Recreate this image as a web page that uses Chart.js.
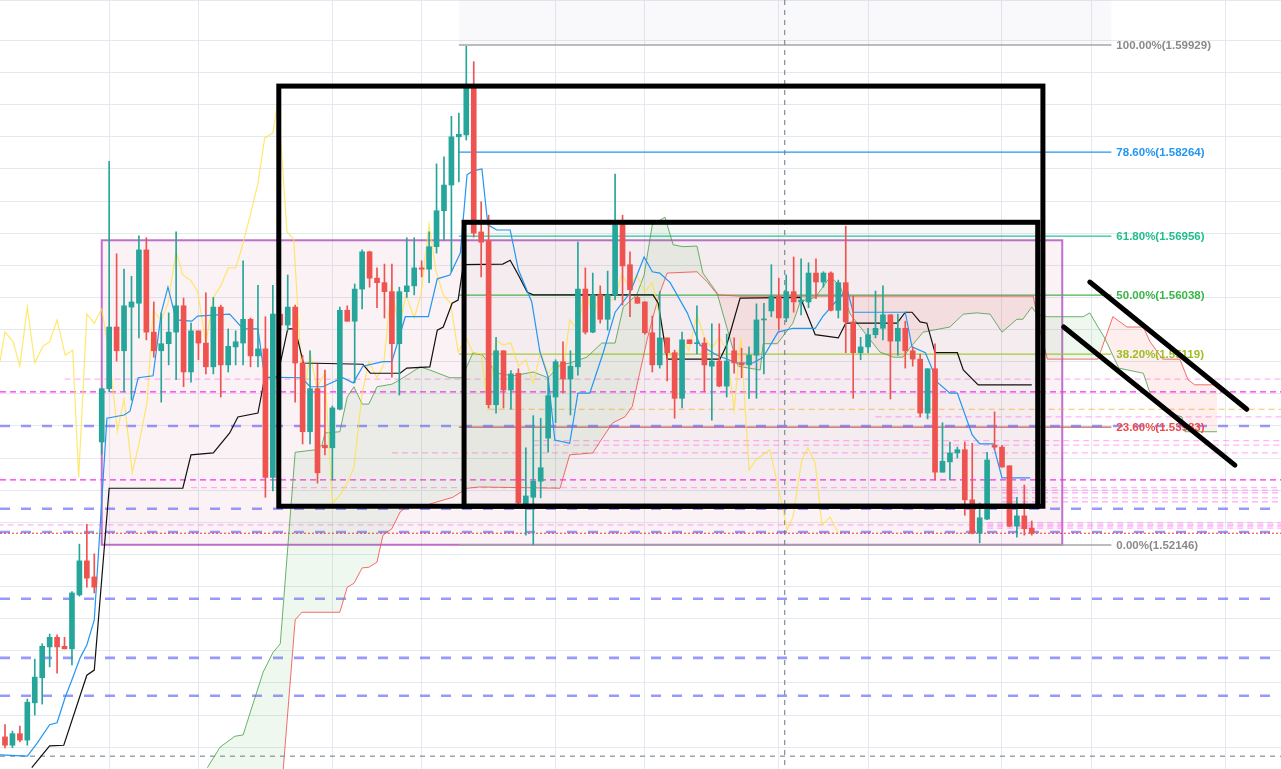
<!DOCTYPE html>
<html>
<head>
<meta charset="utf-8">
<script src="https://cdn.jsdelivr.net/npm/chart.js@4.4.0/dist/chart.umd.min.js"></script>
<style>
  html, body { margin: 0; padding: 0; background: #ffffff; }
  #wrap { width: 1281px; height: 769px; }
</style>
</head>
<body>
<div id="wrap"><canvas id="chart" width="1281" height="769"></canvas></div>
<script>
// candles, one per bar (bar index = position in the array)
var opens = [1.4916,1.4903,1.4921,1.4911,1.4969,1.5008,1.5056,1.5071,1.5057,1.5053,
  1.5137,1.5190,1.5165,1.5375,1.5458,1.5554,1.5517,1.5585,1.5591,1.5674,
  1.5546,1.5517,1.5528,1.5546,1.5587,1.5484,1.5548,1.5529,1.5492,1.5585,
  1.5495,1.5523,1.5529,1.5566,1.5509,1.5520,1.5320,1.5574,1.5557,1.5585,
  1.5498,1.5391,1.5458,1.5370,1.5366,1.5426,1.5580,1.5563,1.5613,1.5671,
  1.5630,1.5623,1.5609,1.5528,1.5609,1.5618,1.5646,1.5644,1.5679,1.5735,
  1.5775,1.5850,1.5853,1.5926,1.5702,1.5688,1.5433,1.5517,1.5456,1.5482,
  1.5275,1.5289,1.5314,1.5381,1.5445,1.5500,1.5473,1.5492,1.5613,1.5546,
  1.5604,1.5566,1.5604,1.5713,1.5651,1.5600,1.5593,1.5545,1.5495,1.5537,
  1.5514,1.5443,1.5534,1.5528,1.5529,1.5493,1.5501,1.5462,1.5517,1.5498,
  1.5495,1.5510,1.5565,1.5579,1.5602,1.5568,1.5609,1.5593,1.5593,1.5638,
  1.5624,1.5638,1.5580,1.5623,1.5562,1.5514,1.5523,1.5542,1.5552,1.5573,
  1.5532,1.5552,1.5517,1.5504,1.5420,1.5489,1.5328,1.5344,1.5358,1.5363,
  1.5285,1.5233,1.5255,1.5370,1.5367,1.5338,1.5244,1.5260,1.5241];
var highs = [1.4935,1.4925,1.4933,1.4975,1.5037,1.5061,1.5076,1.5075,1.5071,1.5142,
  1.5216,1.5247,1.5201,1.5459,1.5812,1.5668,1.5644,1.5633,1.5696,1.5693,
  1.5593,1.5576,1.5576,1.5702,1.5599,1.5560,1.5548,1.5607,1.5600,1.5588,
  1.5551,1.5548,1.5657,1.5568,1.5619,1.5570,1.5619,1.5587,1.5635,1.5588,
  1.5510,1.5517,1.5496,1.5487,1.5431,1.5585,1.5587,1.5621,1.5674,1.5672,
  1.5646,1.5652,1.5652,1.5616,1.5693,1.5693,1.5657,1.5702,1.5808,1.5819,
  1.5882,1.5887,1.5991,1.5967,1.5749,1.5728,1.5538,1.5517,1.5486,1.5489,
  1.5366,1.5416,1.5412,1.5475,1.5503,1.5531,1.5517,1.5686,1.5646,1.5638,
  1.5618,1.5641,1.5792,1.5728,1.5671,1.5602,1.5593,1.5571,1.5609,1.5537,
  1.5518,1.5546,1.5534,1.5587,1.5537,1.5559,1.5559,1.5543,1.5537,1.5521,
  1.5523,1.5590,1.5591,1.5651,1.5630,1.5635,1.5663,1.5660,1.5654,1.5660,
  1.5640,1.5640,1.5627,1.5711,1.5602,1.5538,1.5552,1.5610,1.5618,1.5573,
  1.5574,1.5563,1.5523,1.5512,1.5489,1.5528,1.5405,1.5375,1.5367,1.5375,
  1.5373,1.5280,1.5359,1.5422,1.5370,1.5338,1.5289,1.5308,1.5252];
var lows = [1.4899,1.4899,1.4908,1.4903,1.4950,1.4967,1.5025,1.5015,1.5053,1.5028,
  1.5135,1.5149,1.5140,1.5356,1.5453,1.5501,1.5453,1.5440,1.5537,1.5534,
  1.5507,1.5437,1.5495,1.5472,1.5461,1.5468,1.5503,1.5481,1.5481,1.5445,
  1.5484,1.5495,1.5495,1.5492,1.5492,1.5289,1.5299,1.5549,1.5549,1.5437,
  1.5372,1.5372,1.5311,1.5355,1.5316,1.5425,1.5563,1.5467,1.5582,1.5616,
  1.5584,1.5568,1.5476,1.5448,1.5600,1.5604,1.5632,1.5623,1.5669,1.5689,
  1.5640,1.5780,1.5845,1.5694,1.5632,1.5428,1.5420,1.5428,1.5426,1.5275,
  1.5230,1.5215,1.5288,1.5359,1.5405,1.5451,1.5417,1.5479,1.5543,1.5545,
  1.5560,1.5549,1.5596,1.5588,1.5570,1.5591,1.5543,1.5484,1.5490,1.5470,
  1.5412,1.5428,1.5528,1.5512,1.5453,1.5409,1.5461,1.5445,1.5482,1.5475,
  1.5443,1.5443,1.5481,1.5570,1.5549,1.5562,1.5577,1.5573,1.5584,1.5598,
  1.5616,1.5579,1.5568,1.5514,1.5443,1.5503,1.5514,1.5537,1.5534,1.5442,
  1.5510,1.5490,1.5493,1.5414,1.5411,1.5316,1.5328,1.5316,1.5350,1.5261,
  1.5232,1.5218,1.5254,1.5363,1.5336,1.5243,1.5227,1.5230,1.5230];
var closes = [1.4903,1.4921,1.4911,1.4970,1.5009,1.5057,1.5071,1.5056,1.5053,1.5140,
  1.5190,1.5163,1.5149,1.5458,1.5554,1.5517,1.5587,1.5593,1.5674,1.5546,
  1.5517,1.5528,1.5546,1.5587,1.5484,1.5548,1.5529,1.5492,1.5585,1.5495,
  1.5524,1.5531,1.5566,1.5509,1.5520,1.5320,1.5574,1.5557,1.5585,1.5498,
  1.5391,1.5458,1.5327,1.5366,1.5428,1.5580,1.5563,1.5613,1.5671,1.5630,
  1.5623,1.5609,1.5528,1.5609,1.5618,1.5646,1.5644,1.5679,1.5735,1.5775,
  1.5850,1.5854,1.5926,1.5700,1.5686,1.5433,1.5517,1.5456,1.5481,1.5280,
  1.5291,1.5314,1.5335,1.5447,1.5500,1.5473,1.5493,1.5613,1.5546,1.5604,
  1.5566,1.5604,1.5713,1.5649,1.5612,1.5591,1.5545,1.5495,1.5537,1.5514,
  1.5443,1.5534,1.5528,1.5529,1.5495,1.5501,1.5462,1.5501,1.5498,1.5495,
  1.5510,1.5565,1.5566,1.5602,1.5568,1.5609,1.5593,1.5596,1.5638,1.5624,
  1.5638,1.5580,1.5623,1.5562,1.5514,1.5523,1.5542,1.5552,1.5573,1.5532,
  1.5552,1.5517,1.5504,1.5420,1.5489,1.5328,1.5345,1.5358,1.5363,1.5285,
  1.5233,1.5257,1.5347,1.5367,1.5336,1.5244,1.5260,1.5240,1.5233];

// ichimoku lines (bar index, price)
var tenkanBars = [-0.7,3,4.3,6,7,8.1,9,10.1,11,12,13.7,16,16.8,17.9,19.9,21,21.9,23,25.1,25.9,
  30.2,32,34,34.9,39.9,41,42.7,45.4,46.8,48.1,50.8,52,53.8,56.9,58.1,59.8,61.2,62.1,62.9,64.1,
  64.9,66.1,67.9,69,70.8,71.9,73,73.9,75.9,77,78.6,80.4,82,84,85.9,87,88,89.4,91.7,93.4,
  95.7,98.4,100.5,101.9,103.9,105.9,108.9,109.9,112,113.2,114,121,121.9,123.7,125.4,127,128,130,131,132.8,
  134,137.8];
var tenkanPrices = [1.4888,1.4886,1.4906,1.4935,1.4938,1.4978,1.5005,1.5039,1.5059,1.5098,1.5412,1.5417,1.5423,1.5475,1.5478,1.5576,1.5616,1.5565,1.5563,1.5571,
  1.5574,1.5551,1.5551,1.5476,1.5475,1.5461,1.5461,1.5475,1.5467,1.5493,1.5500,1.5500,1.5570,1.5570,1.5629,1.5635,1.5669,1.5791,1.5797,1.5800,
  1.5713,1.5705,1.5705,1.5643,1.5593,1.5515,1.5476,1.5378,1.5373,1.5451,1.5451,1.5514,1.5577,1.5607,1.5663,1.5640,1.5638,1.5623,1.5576,1.5526,
  1.5510,1.5498,1.5498,1.5507,1.5546,1.5552,1.5552,1.5570,1.5598,1.5612,1.5577,1.5577,1.5523,1.5514,1.5467,1.5451,1.5451,1.5386,1.5372,1.5372,
  1.5319,1.5319];
var kijunBars = [3.6,6,7.9,11,12,14,23.9,25,28,30.2,31.3,34,34.9,36.6,38,39,40.1,48.1,49.1,53.1,
  54,57.1,58.1,58.9,60.1,60.9,61.6,66.9,67.9,69,70.2,71,87.1,87.8,89,96.1,97,98.8,106.9,108.9,
  112,113,119.9,121,121.9,123,123.9,125,128,128.8,130.8,138];
var kijunPrices = [1.4868,1.4902,1.4903,1.5012,1.5020,1.5303,1.5303,1.5355,1.5358,1.5389,1.5414,1.5420,1.5475,1.5476,1.5551,1.5551,1.5498,1.5496,1.5482,1.5482,
  1.5490,1.5492,1.5549,1.5554,1.5591,1.5596,1.5651,1.5652,1.5658,1.5635,1.5608,1.5604,1.5604,1.5591,1.5504,1.5504,1.5526,1.5599,1.5600,1.5542,
  1.5537,1.5560,1.5560,1.5577,1.5577,1.5562,1.5560,1.5514,1.5514,1.5487,1.5464,1.5464];
var spanABars = [27.2,28.9,30.9,32,34.7,36,37,39,41.8,42.6,43,45,46,46.9,48,48.9,50,52,53.1,55.8,
  57.1,59.8,61.4,62.9,64.2,66.1,68.3,71,73,74.6,75.9,78.2,80.2,82,83.1,84.9,85.9,87,88.7,89.8,
  91.1,93,93.8,95.7,98.5,101.5,101.9,103.8,105.9,106.9,108.9,110.9,112.2,113.6,116.3,117.6,119.4,120.7,121.6,123.4,
  124.7,127,128.8,130.6,132.4,134,136,136.8,138,138.7,140.1,144.9,145.8,146.9,147.8,149.7,153,153.9,155.5,156.6,
  158.2,158.6,162.9];
var spanAPrices = [1.4868,1.4900,1.4917,1.4919,1.5017,1.5047,1.5061,1.5359,1.5363,1.5370,1.5389,1.5391,1.5445,1.5461,1.5434,1.5434,1.5461,1.5465,1.5472,1.5492,
  1.5487,1.5475,1.5475,1.5514,1.5510,1.5482,1.5478,1.5484,1.5475,1.5495,1.5498,1.5507,1.5529,1.5529,1.5585,1.5604,1.5635,1.5713,1.5725,1.5682,
  1.5679,1.5680,1.5638,1.5607,1.5493,1.5487,1.5528,1.5528,1.5560,1.5594,1.5600,1.5632,1.5619,1.5574,1.5534,1.5515,1.5507,1.5507,1.5521,1.5546,
  1.5549,1.5554,1.5574,1.5576,1.5574,1.5546,1.5566,1.5566,1.5585,1.5574,1.5570,1.5570,1.5576,1.5554,1.5537,1.5490,1.5482,1.5451,1.5426,1.5420,
  1.5414,1.5391,1.5391];
var spanBBars = [27.2,37,37.4,39,39.9,45,46,46.9,48,48.9,50,50.8,52,53.1,54,56.7,60.2,62.1,63.8,74.6,75.9,
  79,80.4,81.7,83.3,84.3,85.3,86.3,87.1,88,89,93,94.4,95.8,98.8,138.2,139.1,140.1,146.9,148.9,150.8,
  153,153.9,155.6,157.9,159,159.9,162.9];
var spanBPrices = [1.4700,1.4818,1.4866,1.5098,1.5110,1.5110,1.5149,1.5155,1.5179,1.5180,1.5188,1.5230,1.5240,1.5266,1.5274,1.5277,1.5289,1.5303,1.5305,1.5303,1.5355,
  1.5358,1.5383,1.5405,1.5414,1.5430,1.5482,1.5534,1.5570,1.5607,1.5638,1.5640,1.5624,1.5604,1.5602,1.5602,1.5549,1.5504,1.5504,1.5570,1.5554,
  1.5554,1.5531,1.5504,1.5504,1.5472,1.5464,1.5464];
var laggingBars = [-0.67,0,1.1,2,3,4,5.1,6,7,8.1,9.1,9.9,11,12,13,14,15.1,16,17.1,18,
  19.1,19.9,21,21.9,23,23.9,25,25.9,27,28,29,30,31,31.6,32.9,34,34.9,36,36.7,37.9,
  38.8,40.1,41,41.9,43,44,45,46,46.9,48,48.9,50,50.9,51.9,53,53.9,55,55.9,57,57.9,
  58.9,59.9,60.9,62,62.9,64,64.9,66,66.9,68,69,70,71,72,73,74.1,75,75.9,77,78,
  79,80,81,82,82.9,84,84.9,86,87,88,89,90.1,91,91.9,93,94,95,96,97,98,
  98.9,100,100.9,102.8,104.6,105.1,105.9,107.1,107.9,108.9,109.8,110.9,112];
var laggingPrices = [1.5501,1.5546,1.5531,1.5493,1.5585,1.5498,1.5524,1.5531,1.5565,1.5510,1.5518,1.5320,1.5574,1.5560,1.5582,1.5515,1.5392,1.5442,1.5327,1.5372,
  1.5437,1.5579,1.5565,1.5590,1.5671,1.5635,1.5626,1.5609,1.5528,1.5600,1.5618,1.5646,1.5646,1.5668,1.5725,1.5778,1.5848,1.5856,1.5907,1.5702,
  1.5691,1.5436,1.5515,1.5459,1.5482,1.5280,1.5292,1.5311,1.5335,1.5451,1.5500,1.5475,1.5495,1.5615,1.5554,1.5604,1.5568,1.5604,1.5714,1.5643,
  1.5604,1.5591,1.5515,1.5537,1.5514,1.5512,1.5428,1.5534,1.5526,1.5529,1.5493,1.5503,1.5467,1.5515,1.5482,1.5500,1.5484,1.5565,1.5549,1.5619,
  1.5568,1.5609,1.5593,1.5599,1.5635,1.5616,1.5635,1.5609,1.5623,1.5570,1.5515,1.5500,1.5534,1.5518,1.5573,1.5538,1.5521,1.5538,1.5518,1.5425,
  1.5537,1.5331,1.5347,1.5363,1.5269,1.5238,1.5258,1.5347,1.5366,1.5342,1.5246,1.5258,1.5233];

// fibonacci retracement
var fibLevels = [1, 0.786, 0.618, 0.5, 0.382, 0.236, 0];
var fibLabels = ['100.00%(1.59929)','78.60%(1.58264)','61.80%(1.56956)','50.00%(1.56038)','38.20%(1.55119)','23.60%(1.53983)','0.00%(1.52146)'];
var fibLow = 1.52146, fibHigh = 1.59929;
var fibBars = [61.0, 148.7];

// horizontal levels drawn on the chart
var blueLevels = [1.5400, 1.5271, 1.5235, 1.5131, 1.5039, 1.4980];
var magentaLevels = [1.5453, 1.5316];
var pinkLevels = [1.5473, 1.5304, 1.5246, 1.5377, 1.5370, 1.5358, 1.5414, 1.5300, 1.5296, 1.5288, 1.5282, 1.5249, 1.5244, 1.5241];
var pinkFromBars = [8, 25, -1, 71, 71, 52, 117, 134, 134, 134, 134, 132, 132, 132];
var orangeLevel = 1.5426, orangeFromBar = 65;
var lastPrice = 1.5233;
var crossPrice = 1.4886, crossBar = 104.8;

// boxes and trend lines
var zoneBars = [13.0, 142.1], zonePrices = [1.5689, 1.5215];
var boxABars = [36.8, 139.5], boxAPrices = [1.5929, 1.5275];
var boxBBars = [61.7, 138.8], boxBPrices = [1.5717, 1.5275];
var upperTrendBars = [145.8, 166.9], upperTrendPrices = [1.5624, 1.5426];
var lowerTrendBars = [142.3, 165.3], lowerTrendPrices = [1.5554, 1.5339];

// visible range and session grid
var barMin = -0.672, barMax = 171.5;
var priceMin = 1.4866, priceMax = 1.6063;
var gridBars = [14, 26, 44, 56, 74, 86, 104, 116, 134, 146, 164];

var UP = '#26a69a', DOWN = '#ef5350';
var candleColors = closes.map(function (c, i) { return c >= opens[i] ? UP : DOWN; });

function pts(bars, prices) {
  return bars.map(function (b, k) { return { x: b, y: prices[k] }; });
}

var drawings = {
  id: 'drawings',
  beforeDatasetsDraw: function (chart) {
    var ctx = chart.ctx, x = chart.scales.x, y = chart.scales.y, a = chart.chartArea;
    var px = function (v) { return x.getPixelForValue(v); };
    var py = function (v) { return y.getPixelForValue(v); };
    function hline(price, fromBar, color, width, dash) {
      ctx.beginPath();
      ctx.strokeStyle = color; ctx.lineWidth = width; ctx.setLineDash(dash);
      var x0 = fromBar === null ? a.left : px(fromBar);
      ctx.moveTo(x0, py(price)); ctx.lineTo(a.right, py(price));
      ctx.stroke();
    }
    ctx.save();
    // fib upper zone
    ctx.fillStyle = 'rgba(110,120,170,0.045)';
    ctx.fillRect(px(fibBars[0]), a.top, px(fibBars[1]) - px(fibBars[0]), py(fibHigh) - a.top);
    // pink range box
    ctx.fillStyle = 'rgba(200,80,130,0.075)';
    ctx.fillRect(px(zoneBars[0]), py(zonePrices[0]), px(zoneBars[1]) - px(zoneBars[0]), py(zonePrices[1]) - py(zonePrices[0]));
    ctx.strokeStyle = 'rgba(156,39,176,0.65)'; ctx.lineWidth = 2;
    ctx.strokeRect(px(zoneBars[0]), py(zonePrices[0]), px(zoneBars[1]) - px(zoneBars[0]), py(zonePrices[1]) - py(zonePrices[0]));
    // inner box shade
    ctx.fillStyle = 'rgba(90,110,90,0.045)';
    ctx.fillRect(px(boxBBars[0]), py(boxBPrices[0]), px(boxBBars[1]) - px(boxBBars[0]), py(boxBPrices[1]) - py(boxBPrices[0]));

    // fib lines
    var fibColors = ['#a6a6a6', '#2196f3', '#22c896', '#4caf50', '#a8c93a', '#c85c5c', '#a6a6a6'];
    fibLevels.forEach(function (lv, k) {
      var p = fibLow + (fibHigh - fibLow) * lv;
      ctx.beginPath(); ctx.setLineDash([]);
      ctx.strokeStyle = fibColors[k]; ctx.lineWidth = (lv === 1 || lv === 0) ? 1.6 : 1.2;
      ctx.moveTo(px(fibBars[0]), py(p)); ctx.lineTo(px(fibBars[1]), py(p)); ctx.stroke();
    });

    // levels
    pinkLevels.forEach(function (p, k) { hline(p, pinkFromBars[k], 'rgba(255,90,235,0.45)', 1.3, [6, 4]); });
    magentaLevels.forEach(function (p) { hline(p, null, '#ff2cf0', 1.2, [6, 4]); });
    hline(orangeLevel, orangeFromBar, 'rgba(255,160,40,0.7)', 1.2, [6, 4]);
    blueLevels.forEach(function (p) { hline(p, null, 'rgba(110,110,250,0.7)', 2.6, [10, 11]); });
    hline(lastPrice, null, '#e53935', 1, [2, 2]);
    hline(crossPrice, null, '#6b7785', 1, [5, 5]);
    ctx.beginPath(); ctx.setLineDash([5, 5]); ctx.strokeStyle = '#6b7785'; ctx.lineWidth = 1;
    ctx.moveTo(px(crossBar), a.top); ctx.lineTo(px(crossBar), a.bottom); ctx.stroke();
    ctx.restore();
  },
  afterDatasetsDraw: function (chart) {
    var ctx = chart.ctx, x = chart.scales.x, y = chart.scales.y;
    var px = function (v) { return x.getPixelForValue(v); };
    var py = function (v) { return y.getPixelForValue(v); };
    ctx.save();
    ctx.setLineDash([]);
    ctx.strokeStyle = '#000'; ctx.lineWidth = 5; ctx.lineJoin = 'miter';
    ctx.strokeRect(px(boxABars[0]), py(boxAPrices[0]), px(boxABars[1]) - px(boxABars[0]), py(boxAPrices[1]) - py(boxAPrices[0]));
    ctx.strokeRect(px(boxBBars[0]), py(boxBPrices[0]), px(boxBBars[1]) - px(boxBBars[0]), py(boxBPrices[1]) - py(boxBPrices[0]));
    // fib labels
    var labelColors = ['#8a8a8a', '#2196f3', '#1fbf8c', '#3cb54a', '#9cbf22', '#f04848', '#8a8a8a'];
    ctx.font = 'bold 11.5px "Liberation Sans", Arial, sans-serif';
    ctx.textBaseline = 'middle'; ctx.textAlign = 'left';
    fibLevels.forEach(function (lv, k) {
      var p = fibLow + (fibHigh - fibLow) * lv;
      ctx.fillStyle = labelColors[k];
      ctx.fillText(fibLabels[k], px(fibBars[1]) + 5, py(p) + 1);
    });
    // trend lines
    ctx.lineCap = 'round'; ctx.lineWidth = 5; ctx.strokeStyle = '#000';
    [[upperTrendBars, upperTrendPrices], [lowerTrendBars, lowerTrendPrices]].forEach(function (t) {
      ctx.beginPath();
      ctx.moveTo(px(t[0][0]), py(t[1][0])); ctx.lineTo(px(t[0][1]), py(t[1][1]));
      ctx.stroke();
    });
    ctx.restore();
  }
};

var lineBase = { type: 'line', pointRadius: 0, tension: 0, fill: false, borderWidth: 1.2 };

new Chart(document.getElementById('chart').getContext('2d'), {
  type: 'bar',
  data: {
    datasets: [
      { type: 'bar', label: 'body', data: opens.map(function (o, i) { return { x: i, y: [o, closes[i]] }; }),
        backgroundColor: candleColors, barThickness: 5, minBarLength: 1, grouped: false, order: 0 },
      { type: 'bar', label: 'wick', data: lows.map(function (l, i) { return { x: i, y: [l, highs[i]] }; }),
        backgroundColor: candleColors, barThickness: 1, grouped: false, order: 1 },
      Object.assign({}, lineBase, { label: 'Span A', data: pts(spanABars, spanAPrices), borderColor: 'rgba(67,160,71,0.8)', borderWidth: 1,
        fill: { target: 3, above: 'rgba(76,175,80,0.09)', below: 'rgba(244,67,54,0.09)' }, order: 9 }),
      Object.assign({}, lineBase, { label: 'Span B', data: pts(spanBBars, spanBPrices), borderColor: 'rgba(239,83,80,0.85)', borderWidth: 1, order: 8 }),
      Object.assign({}, lineBase, { label: 'Lagging', data: pts(laggingBars, laggingPrices), borderColor: 'rgba(255,226,60,0.75)', order: 7 }),
      Object.assign({}, lineBase, { label: 'Base', data: pts(kijunBars, kijunPrices), borderColor: '#111111', order: 6 }),
      Object.assign({}, lineBase, { label: 'Conversion', data: pts(tenkanBars, tenkanPrices), borderColor: '#2196f3', order: 5 })
    ]
  },
  options: {
    responsive: false,
    animation: false,
    layout: { padding: 0 },
    plugins: { legend: { display: false }, tooltip: { enabled: false } },
    scales: {
      x: {
        type: 'linear', min: barMin, max: barMax, offset: false,
        ticks: { display: false },
        border: { display: false },
        grid: { color: '#e4e9ef', drawTicks: false, offset: false },
        afterBuildTicks: function (s) { s.ticks = gridBars.map(function (v) { return { value: v }; }); }
      },
      y: {
        type: 'linear', min: priceMin, max: priceMax,
        ticks: { display: false, stepSize: 0.005 },
        border: { display: false },
        grid: { color: '#e4e9ef', drawTicks: false }
      }
    }
  },
  plugins: [drawings]
});
</script>
</body>
</html>
